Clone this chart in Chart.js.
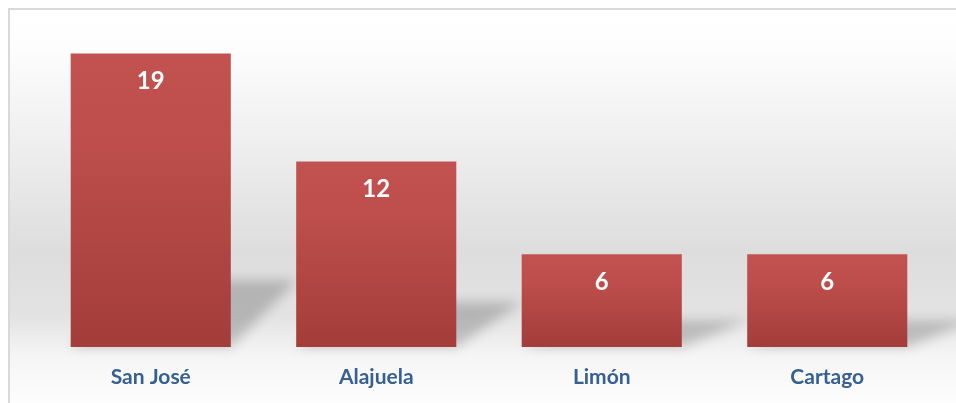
<!DOCTYPE html>
<html>
<head>
<meta charset="utf-8">
<script src="https://cdn.jsdelivr.net/npm/chart.js@4.4.1/dist/chart.umd.min.js"></script>
<style>
html,body{margin:0;padding:0;background:#fff;}
#wrap{width:956px;height:403px;position:relative;}
</style>
</head>
<body>
<div id="wrap"><canvas id="c" width="956" height="403"></canvas></div>
<script>
const categories = ["San José", "Alajuela", "Limón", "Cartago"];
const values = [19, 12, 6, 6];
const yMax = 20;

const bgPlugin = {
  id: 'bg',
  beforeDraw(chart) {
    const ctx = chart.ctx;
    const W = chart.width, H = chart.height;
    ctx.save();
    ctx.fillStyle = '#ffffff';
    ctx.fillRect(0, 0, W, H);
    const g = ctx.createLinearGradient(0, 9, 0, H);
    g.addColorStop(0, '#ffffff');
    g.addColorStop(0.1, '#fdfdfd');
    g.addColorStop(0.35, '#eeeeee');
    g.addColorStop(0.62, '#dddddd');
    g.addColorStop(0.78, '#e3e3e3');
    g.addColorStop(0.88, '#f5f5f5');
    g.addColorStop(1, '#fdfdfd');
    ctx.fillStyle = g;
    ctx.fillRect(9, 9, W - 9, H - 9);
    ctx.strokeStyle = '#d9d9d9';
    ctx.lineWidth = 2;
    ctx.beginPath();
    ctx.moveTo(9, H + 2);
    ctx.lineTo(9, 9);
    ctx.lineTo(W + 2, 9);
    ctx.stroke();
    ctx.restore();
  }
};

const shadowPlugin = {
  id: 'barShadow',
  beforeDatasetsDraw(chart) {
    const ctx = chart.ctx;
    const meta = chart.getDatasetMeta(0);
    ctx.save();
    ctx.filter = 'blur(6px)';
    ctx.fillStyle = 'rgba(0,0,0,0.2)';
    meta.data.forEach(bar => {
      const h = bar.base - bar.y;
      const sh = h * 0.2 + 8;
      const skew = 66;
      const left = bar.x - bar.width / 2;
      const right = bar.x + bar.width / 2;
      ctx.beginPath();
      ctx.moveTo(left, bar.base);
      ctx.lineTo(right, bar.base);
      ctx.lineTo(right + skew, bar.base - sh);
      ctx.lineTo(left + skew, bar.base - sh);
      ctx.closePath();
      ctx.fill();
    });
    ctx.restore();
  }
};

const labelPlugin = {
  id: 'valueLabels',
  afterDatasetsDraw(chart) {
    const ctx = chart.ctx;
    const meta = chart.getDatasetMeta(0);
    ctx.save();
    ctx.fillStyle = '#ffffff';
    ctx.font = 'bold 24px Lato, "Open Sans", sans-serif';
    ctx.textAlign = 'center';
    ctx.textBaseline = 'middle';
    meta.data.forEach((bar, i) => {
      ctx.fillText(String(values[i]), bar.x, bar.y + 28);
    });
    ctx.restore();
  }
};

const ctx = document.getElementById('c').getContext('2d');
new Chart(ctx, {
  type: 'bar',
  data: {
    labels: categories,
    datasets: [{
      data: values,
      backgroundColor: (c) => {
        const chart = c.chart;
        const ys = chart.scales && chart.scales.y;
        if (!chart.chartArea || !ys || c.parsed === undefined) return '#b84744';
        const top = ys.getPixelForValue(c.parsed.y);
        const base = ys.getPixelForValue(0);
        if (!isFinite(top) || !isFinite(base) || top === base) return '#b84744';
        const g = chart.ctx.createLinearGradient(0, top, 0, base);
        g.addColorStop(0, '#c1524f');
        g.addColorStop(0.3, '#bd4e4b');
        g.addColorStop(1, '#a33d3a');
        return g;
      },
      borderWidth: 0,
      barPercentage: 0.71,
      categoryPercentage: 1.0
    }]
  },
  options: {
    responsive: false,
    animation: false,
    devicePixelRatio: 1,
    layout: { padding: { left: 38, right: 16, top: 38, bottom: 0 } },
    plugins: { legend: { display: false }, tooltip: { enabled: false } },
    scales: {
      y: { display: false, min: 0, max: yMax },
      x: {
        grid: { display: false, drawTicks: false },
        border: { display: false },
        afterFit(scale) { scale.height = 56; },
        ticks: {
          color: '#376092',
          font: { family: 'Lato, "Open Sans", sans-serif', weight: 'bold', size: 21 },
          padding: 18
        }
      }
    }
  },
  plugins: [bgPlugin, shadowPlugin, labelPlugin]
});
</script>
</body>
</html>
